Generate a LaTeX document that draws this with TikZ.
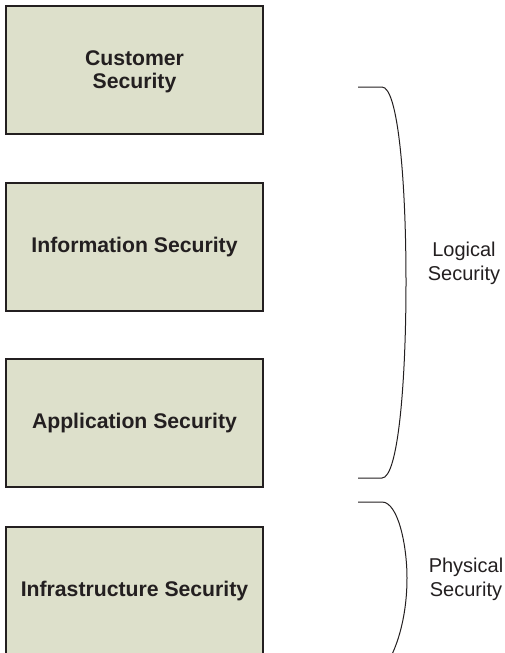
\documentclass[tikz,border=0pt]{standalone}
\usepackage{fontspec}
\setmainfont{Liberation Sans}
\definecolor{boxfill}{HTML}{DDE0CB}
\definecolor{boxline}{HTML}{231F20}
\begin{document}
\begin{tikzpicture}[x=1pt,y=-1pt,
  secbox/.style={draw=boxline,fill=boxfill,line width=2pt},
  boxtext/.style={font=\fontsize{21.2}{23}\selectfont\bfseries,align=center,text=boxline},
  sidetext/.style={font=\fontsize{20}{24}\selectfont,align=center,text=boxline},
  bracket/.style={draw=boxline,line width=1pt}]
\useasboundingbox (0,0) rectangle (505,653);
\draw[secbox] (6,6) rectangle (263,134);
\draw[secbox] (6,183) rectangle (263,311);
\draw[secbox] (6,359) rectangle (263,487);
\draw[secbox] (6,527) rectangle (263,655);
\node[boxtext] (cust) at (134.5,72) {Customer\\Security};
\node[boxtext] (info) at (134.5,247) {Information Security};
\node[boxtext] (app) at (134.5,423) {Application Security};
\node[boxtext] (infra) at (134.5,591) {Infrastructure Security};
\node[sidetext] (logical) at (464,263) {Logical\\Security};
\node[sidetext] (physical) at (466,579) {Physical\\Security};
\draw[bracket] (358,87) -- (382,87) .. controls (398,87) and (406,180) .. (406,282)
  .. controls (406,384) and (398,478) .. (382,478) -- (358,478);
\draw[bracket] (358,502) -- (382,502) .. controls (398,502) and (407,545) .. (407,578)
  .. controls (407,615) and (398,645) .. (388,662);
\end{tikzpicture}
\end{document}
